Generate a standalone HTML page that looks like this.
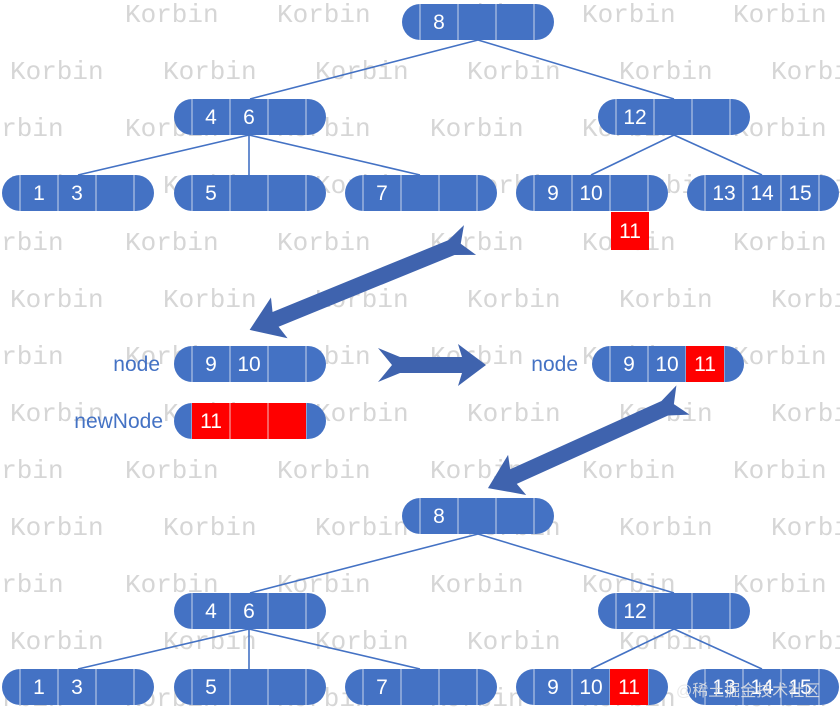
<!DOCTYPE html>
<html><head><meta charset="utf-8"><style>
html,body{margin:0;padding:0;background:#fff;overflow:hidden;width:840px;height:708px;}
svg{display:block}
.w{font-family:"Liberation Mono",monospace;font-size:26px;fill:#d6d6d6;}
.t{font-family:"Liberation Sans",sans-serif;font-size:21px;fill:#fff;text-anchor:middle;}
.l{font-family:"Liberation Sans",sans-serif;font-size:21px;fill:#4472C4;text-anchor:end;}
</style></head><body>
<svg width="840" height="708" viewBox="0 0 840 708" xmlns="http://www.w3.org/2000/svg">
<defs>
<g id="n">
<rect x="0" y="0" width="152" height="36" rx="18" fill="#4472C4"/>
<path d="M18 0V36M56 0V36M94 0V36M132 0V36" stroke="#c9d4ea" stroke-width="1"/>
</g>
</defs>
<g class="w">
<text x="125" y="22">Korbin</text><text x="277" y="22">Korbin</text><text x="430" y="22">Korbin</text><text x="582" y="22">Korbin</text><text x="733" y="22">Korbin</text>
<text x="10" y="79">Korbin</text><text x="163" y="79">Korbin</text><text x="315" y="79">Korbin</text><text x="467" y="79">Korbin</text><text x="619" y="79">Korbin</text><text x="771" y="79">Korbin</text>
<text x="-30" y="136">Korbin</text><text x="125" y="136">Korbin</text><text x="277" y="136">Korbin</text><text x="430" y="136">Korbin</text><text x="582" y="136">Korbin</text><text x="733" y="136">Korbin</text>
<text x="10" y="193">Korbin</text><text x="163" y="193">Korbin</text><text x="315" y="193">Korbin</text><text x="467" y="193">Korbin</text><text x="619" y="193">Korbin</text><text x="771" y="193">Korbin</text>
<text x="-30" y="250">Korbin</text><text x="125" y="250">Korbin</text><text x="277" y="250">Korbin</text><text x="430" y="250">Korbin</text><text x="582" y="250">Korbin</text><text x="733" y="250">Korbin</text>
<text x="10" y="307">Korbin</text><text x="163" y="307">Korbin</text><text x="315" y="307">Korbin</text><text x="467" y="307">Korbin</text><text x="619" y="307">Korbin</text><text x="771" y="307">Korbin</text>
<text x="-30" y="364">Korbin</text><text x="125" y="364">Korbin</text><text x="277" y="364">Korbin</text><text x="430" y="364">Korbin</text><text x="582" y="364">Korbin</text><text x="733" y="364">Korbin</text>
<text x="10" y="421">Korbin</text><text x="163" y="421">Korbin</text><text x="315" y="421">Korbin</text><text x="467" y="421">Korbin</text><text x="619" y="421">Korbin</text><text x="771" y="421">Korbin</text>
<text x="-30" y="478">Korbin</text><text x="125" y="478">Korbin</text><text x="277" y="478">Korbin</text><text x="430" y="478">Korbin</text><text x="582" y="478">Korbin</text><text x="733" y="478">Korbin</text>
<text x="10" y="535">Korbin</text><text x="163" y="535">Korbin</text><text x="315" y="535">Korbin</text><text x="467" y="535">Korbin</text><text x="619" y="535">Korbin</text><text x="771" y="535">Korbin</text>
<text x="-30" y="592">Korbin</text><text x="125" y="592">Korbin</text><text x="277" y="592">Korbin</text><text x="430" y="592">Korbin</text><text x="582" y="592">Korbin</text><text x="733" y="592">Korbin</text>
<text x="10" y="649">Korbin</text><text x="163" y="649">Korbin</text><text x="315" y="649">Korbin</text><text x="467" y="649">Korbin</text><text x="619" y="649">Korbin</text><text x="771" y="649">Korbin</text>
<text x="-30" y="706">Korbin</text><text x="125" y="706">Korbin</text><text x="277" y="706">Korbin</text><text x="430" y="706">Korbin</text><text x="582" y="706">Korbin</text><text x="733" y="706">Korbin</text>
</g>

<g stroke="#4472C4" stroke-width="1.6" fill="none">
<path d="M478 40L250 99M478 40L674 99M249 135L78 175M249 135L249 175M249 135L420 175M674 135L591 175M674 135L762 175"/>
<path d="M478 534L250 593M478 534L674 593M249 629L78 669M249 629L249 669M249 629L420 669M674 629L591 669M674 629L762 669"/>
</g>

<use href="#n" x="402" y="4"/><text class="t" x="439" y="29">8</text>
<use href="#n" x="174" y="99"/><text class="t" x="211" y="124">4</text><text class="t" x="249" y="124">6</text>
<use href="#n" x="598" y="99"/><text class="t" x="635" y="124">12</text>
<use href="#n" x="2" y="175"/><text class="t" x="39" y="200">1</text><text class="t" x="77" y="200">3</text>
<use href="#n" x="174" y="175"/><text class="t" x="211" y="200">5</text>
<use href="#n" x="345" y="175"/><text class="t" x="382" y="200">7</text>
<use href="#n" x="516" y="175"/><text class="t" x="553" y="200">9</text><text class="t" x="591" y="200">10</text>
<use href="#n" x="687" y="175"/><text class="t" x="724" y="200">13</text><text class="t" x="762" y="200">14</text><text class="t" x="800" y="200">15</text>
<rect x="611" y="212" width="38" height="38" fill="#ff0000"/><text class="t" x="630" y="238">11</text>

<text class="l" x="160" y="371">node</text>
<use href="#n" x="174" y="346"/><text class="t" x="211" y="371">9</text><text class="t" x="249" y="371">10</text>
<text class="l" x="163" y="428">newNode</text>
<use href="#n" x="174" y="403"/>
<rect x="192" y="403" width="114" height="36" fill="#ff0000"/>
<path d="M230 403V439M268 403V439" stroke="#f0c0c0" stroke-width="1"/>
<text class="t" x="211" y="428">11</text>
<text class="l" x="578" y="371">node</text>
<use href="#n" x="592" y="346"/>
<rect x="686" y="346" width="38" height="36" fill="#ff0000"/>
<text class="t" x="629" y="371">9</text><text class="t" x="667" y="371">10</text><text class="t" x="705" y="371">11</text>

<g fill="#3F63AE">
<polygon transform="translate(470,240) rotate(157.8)" points="0,-16 20,-8 210,-8 206,-22 238,0 206,22 210,8 20,8 0,16 10,0"/>
<polygon points="378,348 400,357 462,357 458,344 486,365 458,386 462,373 400,373 378,382 392,365"/>
<polygon transform="translate(683,400) rotate(155.7)" points="0,-16 20,-8 186,-8 182,-22 214,0 182,22 186,8 20,8 0,16 10,0"/>
</g>

<use href="#n" x="402" y="498"/><text class="t" x="439" y="523">8</text>
<use href="#n" x="174" y="593"/><text class="t" x="211" y="618">4</text><text class="t" x="249" y="618">6</text>
<use href="#n" x="598" y="593"/><text class="t" x="635" y="618">12</text>
<use href="#n" x="2" y="669"/><text class="t" x="39" y="694">1</text><text class="t" x="77" y="694">3</text>
<use href="#n" x="174" y="669"/><text class="t" x="211" y="694">5</text>
<use href="#n" x="345" y="669"/><text class="t" x="382" y="694">7</text>
<use href="#n" x="516" y="669"/>
<rect x="610" y="669" width="38" height="36" fill="#ff0000"/>
<text class="t" x="553" y="694">9</text><text class="t" x="591" y="694">10</text><text class="t" x="629" y="694">11</text>
<use href="#n" x="687" y="669"/><text class="t" x="724" y="694">13</text><text class="t" x="762" y="694">14</text><text class="t" x="800" y="694">15</text>
<text x="676" y="696" font-family="'Liberation Sans','Noto Sans CJK SC',sans-serif" font-size="16" fill="#e6e6e6" opacity="0.85">@稀土掘金技术社区</text>
</svg>
</body></html>
